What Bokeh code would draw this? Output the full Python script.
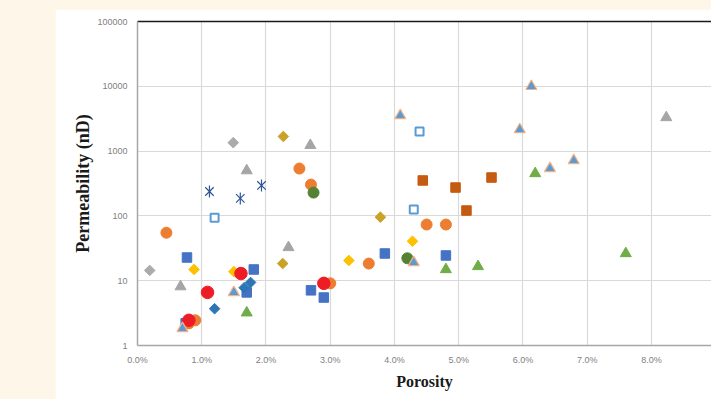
import math
from bokeh.plotting import figure
from bokeh.models import Range1d, FixedTicker, LinearAxis, Label
from bokeh.embed import file_html
from bokeh.resources import INLINE

# ---------------- data (porosity in %, permeability in nD) ----------------
x_ticks = [0, 1, 2, 3, 4, 5, 6, 7, 8]
x_labels = ["0.0%", "1.0%", "2.0%", "3.0%", "4.0%", "5.0%", "6.0%", "7.0%", "8.0%"]
y_ticks = [1, 10, 100, 1000, 10000, 100000]
y_labels = ["1", "10", "100", "1000", "10000", "100000"]

gray_dia_x = [0.19, 1.49]
gray_dia_y = [14.4, 1350]
gray_tri_x = [0.67, 1.70, 2.35, 2.69, 8.23]
gray_tri_y = [8.1, 500, 32.6, 1230, 3300]
star_x = [1.12, 1.60, 1.93]
star_y = [238, 186, 295]
open_sq_x = [1.20, 4.39, 4.30]
open_sq_y = [94, 2000, 125]
blue_sq_x = [0.75, 0.77, 1.81, 1.70, 2.70, 2.90, 3.85, 4.80]
blue_sq_y = [2.2, 22.8, 14.9, 6.6, 7.1, 5.5, 26.3, 24.5]
steel_dia_x = [1.20, 1.66, 1.76]
steel_dia_y = [3.7, 7.8, 9.4]
yellow_dia_x = [0.88, 1.50, 3.29, 4.28]
yellow_dia_y = [14.9, 13.8, 20.5, 40.7]
gold_dia_x = [2.27, 2.26, 3.78]
gold_dia_y = [1680, 18.4, 95.6]
rust_sq_x = [4.44, 4.95, 5.51, 5.12]
rust_sq_y = [352, 274, 391, 121]
orange_x = [0.45, 0.80, 0.90, 2.52, 2.70, 3.00, 3.60, 4.50, 4.80]
orange_y = [55, 2.2, 2.45, 538, 304, 9.1, 18.4, 73.6, 73.6]
green_c_x = [2.74, 4.20]
green_c_y = [229, 22.2]
red_x = [0.80, 1.09, 1.61, 2.90]
red_y = [2.45, 6.6, 12.9, 9.1]
btri_x = [4.09, 6.13, 5.95, 6.42, 6.79, 1.50, 0.70, 4.30]
btri_y = [3540, 10000, 2150, 540, 716, 6.6, 1.83, 19.1]
gtri_x = [6.19, 4.80, 5.30, 7.60, 1.70]
gtri_y = [451, 14.9, 16.6, 26.3, 3.2]

# ---------------- figure ----------------
p = figure(width=656, height=390, y_axis_type="log",
           x_range=Range1d(0, 8.934), y_range=Range1d(1, 100000),
           output_backend="svg", toolbar_location=None,
           min_border_left=82, min_border_right=0,
           min_border_top=12, min_border_bottom=54)
p.outline_line_color = None
p.background_fill_color = "white"
p.border_fill_color = "white"

tick_font = "Liberation Sans"
for ax in (p.xaxis[0], p.yaxis[0]):
    ax.major_tick_line_color = None
    ax.minor_tick_line_color = None
    ax.major_tick_in = 0
    ax.major_tick_out = 0
    ax.minor_tick_out = 0
    ax.axis_line_color = "#A6A6A6"
    ax.axis_line_width = 1.5
    ax.major_label_text_font = tick_font
    ax.major_label_text_font_size = "9px"
    ax.major_label_text_color = "#7F7F7F"
    ax.axis_label_text_font = "Liberation Serif"
    ax.axis_label_text_font_style = "bold"
    ax.axis_label_text_color = "#1A1A1A"

p.xaxis.ticker = FixedTicker(ticks=x_ticks)
p.xaxis.major_label_overrides = dict(zip(x_ticks, x_labels))
p.xaxis.major_label_standoff = 9
p.xaxis.axis_label = "Porosity"
p.xaxis.axis_label_text_font_size = "16px"
p.xaxis.axis_label_standoff = 5

p.yaxis.ticker = FixedTicker(ticks=y_ticks)
p.yaxis.major_label_overrides = dict(zip(y_ticks, y_labels))
p.yaxis.major_label_standoff = 10
p.yaxis.axis_label = "Permeability (nD)"
p.yaxis.axis_label_text_font_size = "18px"
p.yaxis.axis_label_standoff = 1

p.xgrid.ticker = FixedTicker(ticks=x_ticks)
p.ygrid.ticker = FixedTicker(ticks=y_ticks)
for g in (p.xgrid[0], p.ygrid[0]):
    g.grid_line_color = "#D9D9D9"
    g.grid_line_width = 1.2

top = LinearAxis(axis_line_color="#1A1A1A", axis_line_width=1.5,
                 ticker=FixedTicker(ticks=[]),
                 major_tick_line_color=None, minor_tick_line_color=None,
                 major_tick_out=0, major_tick_in=0, minor_tick_out=0,
                 major_label_standoff=0)
p.add_layout(top, "above")

p.add_layout(Label(x=9.0, y=10 ** (-9 / 64.8), text="9.0%", text_align="center",
                   text_baseline="top", text_font=tick_font, text_font_size="9px",
                   text_color="#7F7F7F"))

# ---------------- markers ----------------
D = math.pi / 4
p.scatter(gray_dia_x, gray_dia_y, marker="square", angle=D, size=7.5,
          fill_color="#ABABAB", line_color="#ABABAB")
p.scatter(gray_tri_x, gray_tri_y, marker="triangle", size=11,
          fill_color="#A5A5A5", line_color="#A5A5A5")
p.scatter(star_x, star_y, marker="x", size=12, line_color="#2F5597", line_width=1.2)
p.scatter(star_x, star_y, marker="dash", angle=math.pi / 2, size=12,
          line_color="#2F5597", line_width=1.2)
p.scatter(open_sq_x, open_sq_y, marker="square", size=8, fill_color="white",
          line_color="#5B9BD5", line_width=2)
p.scatter(blue_sq_x, blue_sq_y, marker="square", size=9.5,
          fill_color="#4472C4", line_color="#4472C4")
p.scatter(steel_dia_x, steel_dia_y, marker="square", angle=D, size=7.5,
          fill_color="#2E75B6", line_color="#2E75B6")
p.scatter(yellow_dia_x, yellow_dia_y, marker="square", angle=D, size=7.5,
          fill_color="#FFC000", line_color="#FFC000")
p.scatter(gold_dia_x, gold_dia_y, marker="square", angle=D, size=7.5,
          fill_color="#C9A227", line_color="#C9A227")
p.scatter(rust_sq_x, rust_sq_y, marker="square", size=9.5,
          fill_color="#C55A11", line_color="#C55A11")
p.scatter(orange_x, orange_y, marker="circle", size=11,
          fill_color="#ED7D31", line_color="#ED7D31")
p.scatter(green_c_x, green_c_y, marker="circle", size=11,
          fill_color="#548235", line_color="#548235")
p.scatter(red_x, red_y, marker="circle", size=12.5,
          fill_color="#EE1C25", line_color="#EE1C25")
p.scatter(btri_x, btri_y, marker="triangle", size=11,
          fill_color="#5B9BD5", line_color="#F4B183", line_width=1.2)
p.scatter(gtri_x, gtri_y, marker="triangle", size=11,
          fill_color="#70AD47", line_color="#70AD47")

html = file_html(p, INLINE)
style = ("<style>html{background:#FEF6E8 !important;overflow:hidden !important;}"
         "html,body{height:auto !important;}"
         "body{margin:9px 0 0 55px !important;padding:0 !important;"
         "background:#FEF6E8 !important;}</style></head>")
html = html.replace("</head>", style, 1)
open("out.html", "w").write(html)
